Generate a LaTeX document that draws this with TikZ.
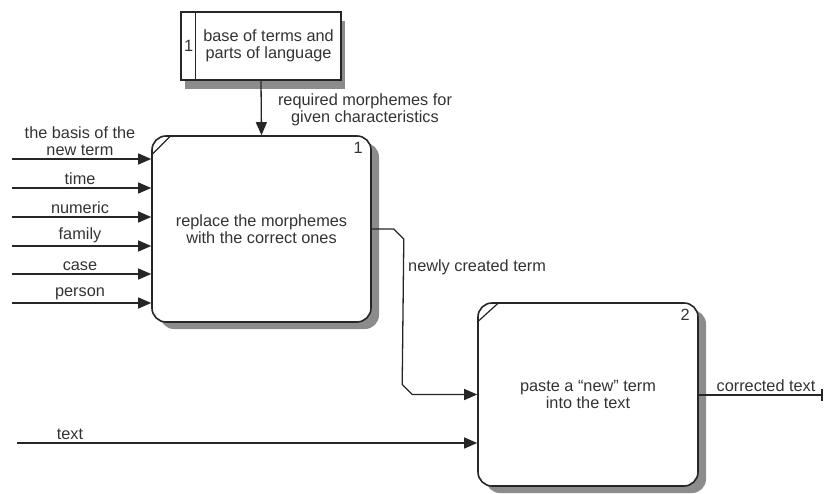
\documentclass[tikz,border=0pt]{standalone}
\usepackage{fontspec}
\setmainfont{Liberation Sans}
\usetikzlibrary{arrows.meta,calc,shadows}

\tikzset{
  lbl/.style={font=\fontsize{16.3}{17.5}\selectfont, align=center, inner sep=0pt, text=black!80},
  numlbl/.style={font=\fontsize{16.3}{17.5}\selectfont, inner sep=0pt, text=black!80},
  actbox/.style={draw=black!85, line width=1.6pt, rounded corners=14pt, fill=white,
    drop shadow={shadow xshift=8pt, shadow yshift=-7pt, fill=black!45, opacity=1},
    font=\fontsize{16.3}{17.5}\selectfont, align=center, text=black!80},
  storebox/.style={draw=black!85, line width=1.6pt, fill=white,
    drop shadow={shadow xshift=4pt, shadow yshift=-9pt, fill=black!45, opacity=1}},
  flow/.style={draw=black!85, line width=1.3pt, -{Triangle[length=13pt,width=11pt]}},
  plainflow/.style={draw=black!85, line width=1.3pt}
}

\begin{document}
\begin{tikzpicture}[x=1pt,y=-1pt]
\useasboundingbox (0,0) rectangle (825,493);

% data store
\node[storebox, minimum width=160pt, minimum height=68pt, inner sep=0pt] (ds) at (261,46) {};
\draw[draw=black!85, line width=1.4pt] ($(ds.north west)+(15,0)$) -- ($(ds.south west)+(15,0)$);
\node[numlbl] (dsnum) at ($(ds.west)+(8.5,0)$) {1};
\node[lbl] (dstext) at ($(ds.center)+(7.5,0)$) {base of terms and\\parts of language};

% activity boxes
\node[actbox, minimum width=219pt, minimum height=186pt] (b1) at (261.5,229)
  {replace the morphemes\\with the correct ones};
\draw[black!85, line width=1.2pt] ($(b1.north west)+(0,20)$) -- ($(b1.north west)+(20,0)$);
\node[numlbl, anchor=north east] (n1) at ($(b1.north east)+(-9,7)$) {1};

\node[actbox, minimum width=220pt, minimum height=183pt] (b2) at (588,394.5)
  {paste a ``new'' term\\into the text};
\draw[black!85, line width=1.2pt] ($(b2.north west)+(0,20)$) -- ($(b2.north west)+(22,0)$);
\node[numlbl, anchor=north east] (n2) at ($(b2.north east)+(-9,7)$) {2};

% control from the store
\draw[flow] (ds.south) -- (b1.north);
\node[lbl] (ctl) at (365,110) {required morphemes for\\given characteristics};

% inputs of activity 1
\foreach \yy/\name/\txt in {159/i1/{the basis of the\\new term}, 188/i2/time, 217/i3/numeric,
    246/i4/family, 274/i5/case, 303/i6/person} {
  \coordinate (\name) at (12,\yy);
  \draw[flow] (\name) -- (\name -| b1.west);
  \node[lbl, anchor=south] (\name lbl) at (80,\yy-3) {\txt};
}

% output of activity 1 feeding activity 2
\coordinate (k1) at ($(b1.east)+(22,0)$);
\coordinate (k2) at ($(b2.west)+(-75,0)$);
\draw[flow] (b1.east) -- (k1) -- ($(k1)+(10,10)$) -- ($(k2)+(0,-10)$) -- ($(k2)+(10,0)$) -- (b2.west);
\node[lbl, anchor=west] (newlbl) at (408,267) {newly created term};

% second input
\coordinate (t0) at (17,443);
\draw[flow] (t0) -- (t0 -| b2.west);
\node[lbl, anchor=south] (txtlbl) at (70,440) {text};

% final output
\coordinate (o1) at (822,395);
\draw[plainflow] (b2.east |- o1) -- (o1);
\draw[draw=black!85, line width=2pt] ($(o1)+(0,-6)$) -- ($(o1)+(0,6)$);
\node[lbl, anchor=south] (outlbl) at (766,392) {corrected text};
\end{tikzpicture}
\end{document}
